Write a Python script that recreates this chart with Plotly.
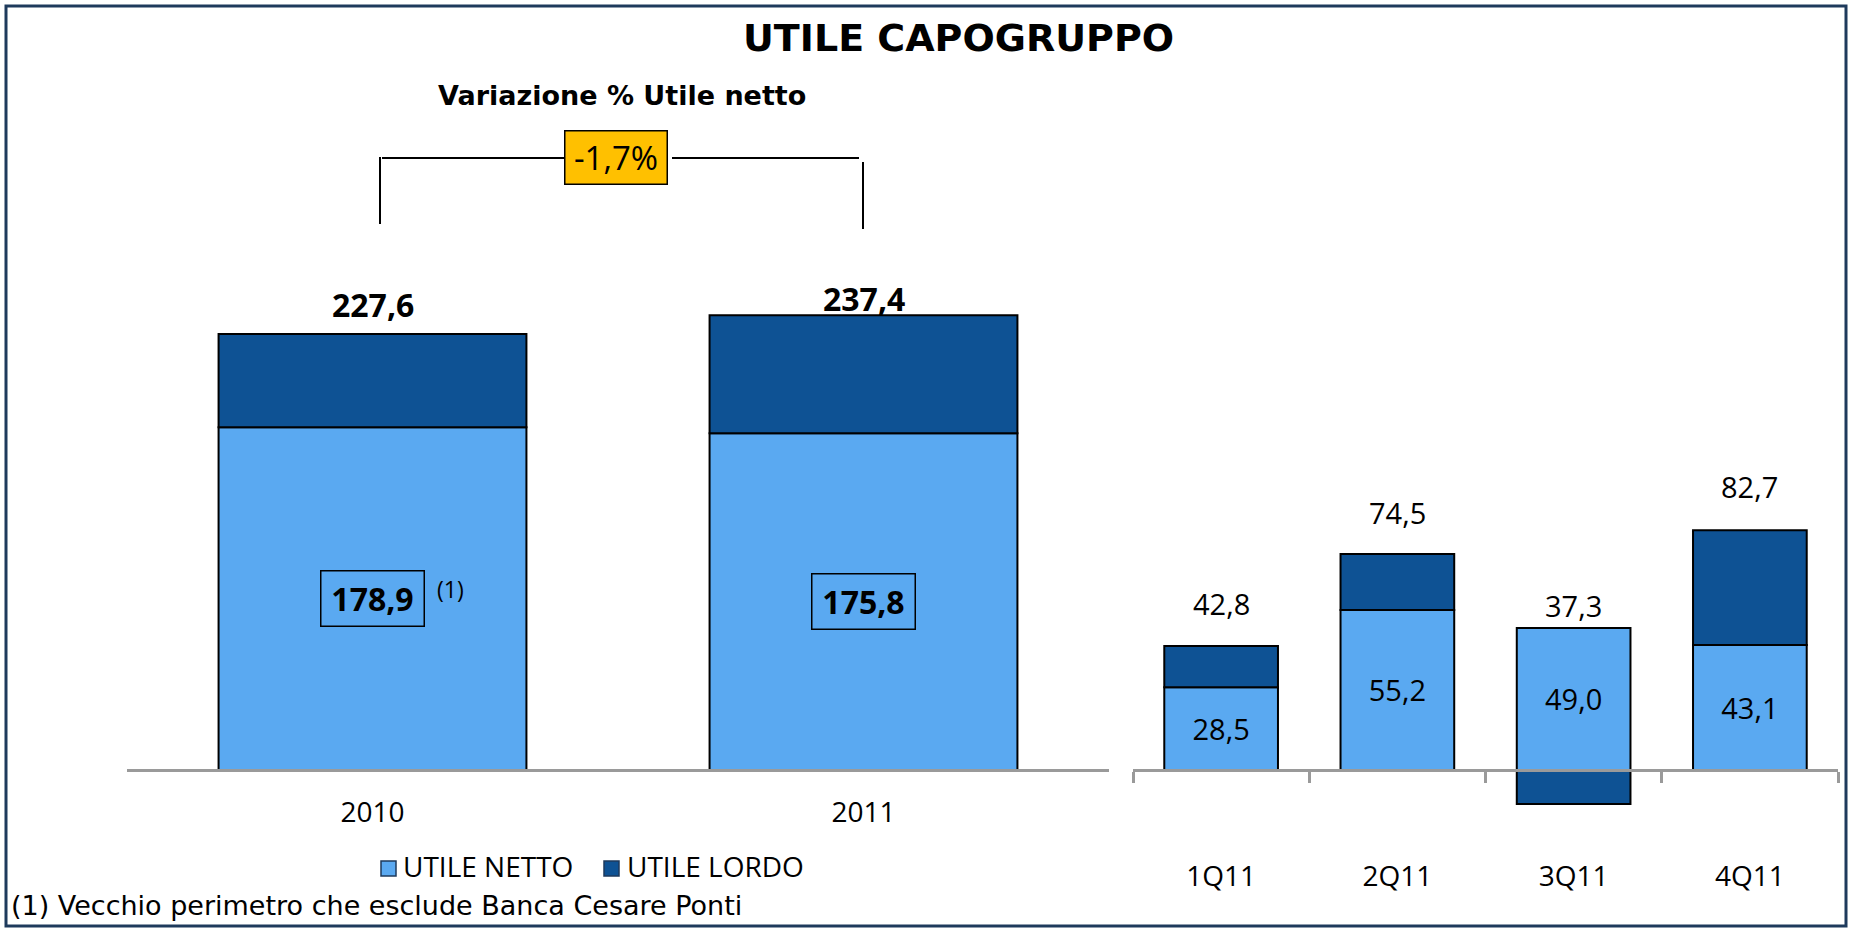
import plotly.graph_objects as go

# ---- data -------------------------------------------------------------
years = ["2010", "2011"]
netto_year = [178.9, 175.8]
lordo_year = [227.6, 237.4]

quarters = ["1Q11", "2Q11", "3Q11", "4Q11"]
netto_q = [28.5, 55.2, 49.0, 43.1]
lordo_q = [42.8, 74.5, 37.3, 82.7]

series_names = ["UTILE NETTO", "UTILE LORDO"]
title_text = "UTILE CAPOGRUPPO"
subtitle_text = "Variazione % Utile netto"
footnote_mark = "(1)"
footnote_text = "(1) Vecchio perimetro che esclude Banca Cesare Ponti"

# ---- styling ------------------------------------------------------------
W, H = 1850, 930
LIGHT = "#5AA9F1"
DARK = "#0E5294"
AXIS_GREY = "#9A9A9A"
FRAME = "#1E3A5C"
GOLD = "#FFC000"
NUM_FONT = "Open Sans"
HEAD_FONT = "DejaVu Sans"

year_px_per_unit = 1.916
q_px_per_unit = 2.90
year_total_gap = [29, 17]          # label offset above each yearly bar (px)
q_total_gap = [42, 41, 22, 44]     # label offset above each quarterly stack (px)


def px(x):
    return x / W


def py(y):
    return 1 - y / H


def fmt(v):
    return f"{v:.1f}".replace(".", ",")


def paper_text(x, y, text, font, xanchor="center", **kw):
    return dict(x=px(x), y=py(y), xref="paper", yref="paper", text=text,
                showarrow=False, xanchor=xanchor, yanchor="middle", font=font, **kw)


# the dark segment is the gap between gross and net result
delta_year = [l - n for n, l in zip(netto_year, lordo_year)]
delta_q = [l - n for n, l in zip(netto_q, lordo_q)]

outline = dict(color="black", width=2)
fig = go.Figure()

# yearly stacks
fig.add_trace(go.Bar(x=years, y=netto_year, width=0.627, name=series_names[0],
                     marker=dict(color=LIGHT, line=outline),
                     xaxis="x", yaxis="y", showlegend=False, hoverinfo="skip"))
fig.add_trace(go.Bar(x=years, y=delta_year, width=0.627, name=series_names[1],
                     marker=dict(color=DARK, line=outline),
                     xaxis="x", yaxis="y", showlegend=False, hoverinfo="skip"))

# quarterly stacks
fig.add_trace(go.Bar(x=quarters, y=netto_q, width=0.645, name=series_names[0],
                     marker=dict(color=LIGHT, line=outline),
                     text=[fmt(v) for v in netto_q], textposition="inside",
                     insidetextanchor="middle", textangle=0,
                     textfont=dict(family=NUM_FONT, size=29, color="black"),
                     xaxis="x2", yaxis="y2", showlegend=False, hoverinfo="skip"))
fig.add_trace(go.Bar(x=quarters, y=delta_q, width=0.645, name=series_names[1],
                     marker=dict(color=DARK, line=outline),
                     xaxis="x2", yaxis="y2", showlegend=False, hoverinfo="skip"))

annotations = []
shapes = []

# yearly totals (bold) and boxed net values; x given as category index
for i, yr in enumerate(years):
    annotations.append(dict(x=i, y=lordo_year[i], xref="x", yref="y",
                            text=f"<b>{fmt(lordo_year[i])}</b>", showarrow=False,
                            xanchor="center", yanchor="middle",
                            yshift=year_total_gap[i],
                            font=dict(family=NUM_FONT, size=32, color="black")))
    annotations.append(dict(x=i, y=netto_year[i] / 2, xref="x", yref="y",
                            text=f"<b>{fmt(netto_year[i])}</b>", showarrow=False,
                            xanchor="center", yanchor="middle",
                            bordercolor="black", borderwidth=1.5, borderpad=2,
                            width=98, height=50,
                            font=dict(family=NUM_FONT, size=32, color="black")))

annotations.append(paper_text(450, 589, footnote_mark,
                              dict(family=NUM_FONT, size=23, color="black")))

# quarterly totals above the stacks
for i, q in enumerate(quarters):
    annotations.append(dict(x=q, y=max(netto_q[i], lordo_q[i]), xref="x2", yref="y2",
                            text=fmt(lordo_q[i]), showarrow=False,
                            xanchor="center", yanchor="middle",
                            yshift=q_total_gap[i],
                            font=dict(family=NUM_FONT, size=29, color="black")))

# headings
annotations.append(paper_text(958, 38, f"<b>{title_text}</b>",
                              dict(family=HEAD_FONT, size=38, color="black")))
annotations.append(paper_text(622, 95, f"<b>{subtitle_text}</b>",
                              dict(family=HEAD_FONT, size=27, color="black")))

# percentage change of net profit, with bracket
change = (netto_year[1] / netto_year[0] - 1) * 100
annotations.append(paper_text(616, 157, fmt(change) + "%",
                              dict(family=NUM_FONT, size=33, color="black"),
                              bgcolor=GOLD, bordercolor="black", borderwidth=1.5,
                              borderpad=2, width=97, height=48))
bracket = dict(color="black", width=2)
for x0, y0, x1, y1 in [(380, 157, 380, 224), (382, 158, 564, 158),
                       (672, 158, 859, 158), (863, 162, 863, 229)]:
    shapes.append(dict(type="line", xref="paper", yref="paper",
                       x0=px(x0), y0=py(y0), x1=px(x1), y1=py(y1), line=bracket))

# legend
for (sx, tx), color, name in zip([(381, 401), (604, 625)], [LIGHT, DARK], series_names):
    shapes.append(dict(type="rect", xref="paper", yref="paper",
                       x0=px(sx), x1=px(sx + 15), y0=py(861), y1=py(876),
                       fillcolor=color, line=dict(color="#1E3A5C", width=1.5)))
    annotations.append(paper_text(tx, 866, name,
                                  dict(family=NUM_FONT, size=28, color="black"),
                                  xanchor="left"))

# footnote
annotations.append(paper_text(9, 905, footnote_text,
                              dict(family=HEAD_FONT, size=27, color="black"),
                              xanchor="left"))

# outer frame
shapes.append(dict(type="rect", xref="paper", yref="paper",
                   x0=px(6), x1=px(1846), y0=py(926), y1=py(6),
                   line=dict(color=FRAME, width=3), layer="above"))

y_dom = [py(850), py(100)]
fig.update_layout(
    width=W, height=H, autosize=False,
    margin=dict(l=0, r=0, t=0, b=0),
    paper_bgcolor="white", plot_bgcolor="white",
    barmode="relative", separators=",.",
    showlegend=False,
    xaxis=dict(domain=[px(127), px(1109)], type="category", range=[-0.5, 1.5],
               anchor="free", position=py(770),
               showline=True, linecolor=AXIS_GREY, linewidth=2.5,
               ticks="", showgrid=False, zeroline=False, ticklabelstandoff=17,
               tickfont=dict(family=NUM_FONT, size=28, color="black")),
    yaxis=dict(domain=y_dom, anchor="x",
               range=[-80 / year_px_per_unit, 670 / year_px_per_unit],
               visible=False, showgrid=False, zeroline=False),
    xaxis2=dict(domain=[px(1133), px(1838)], type="category", range=[-0.5, 3.5],
                anchor="free", position=py(770),
                showline=True, linecolor=AXIS_GREY, linewidth=2.5,
                ticks="outside", tickson="boundaries", ticklen=11, tickwidth=2.5,
                tickcolor=AXIS_GREY, showgrid=False, zeroline=False,
                ticklabelstandoff=81,
                tickfont=dict(family=NUM_FONT, size=28, color="black")),
    yaxis2=dict(domain=y_dom, anchor="x2",
                range=[-80 / q_px_per_unit, 670 / q_px_per_unit],
                visible=False, showgrid=False, zeroline=False),
    annotations=annotations,
    shapes=shapes,
)

fig.write_html("out.html")
